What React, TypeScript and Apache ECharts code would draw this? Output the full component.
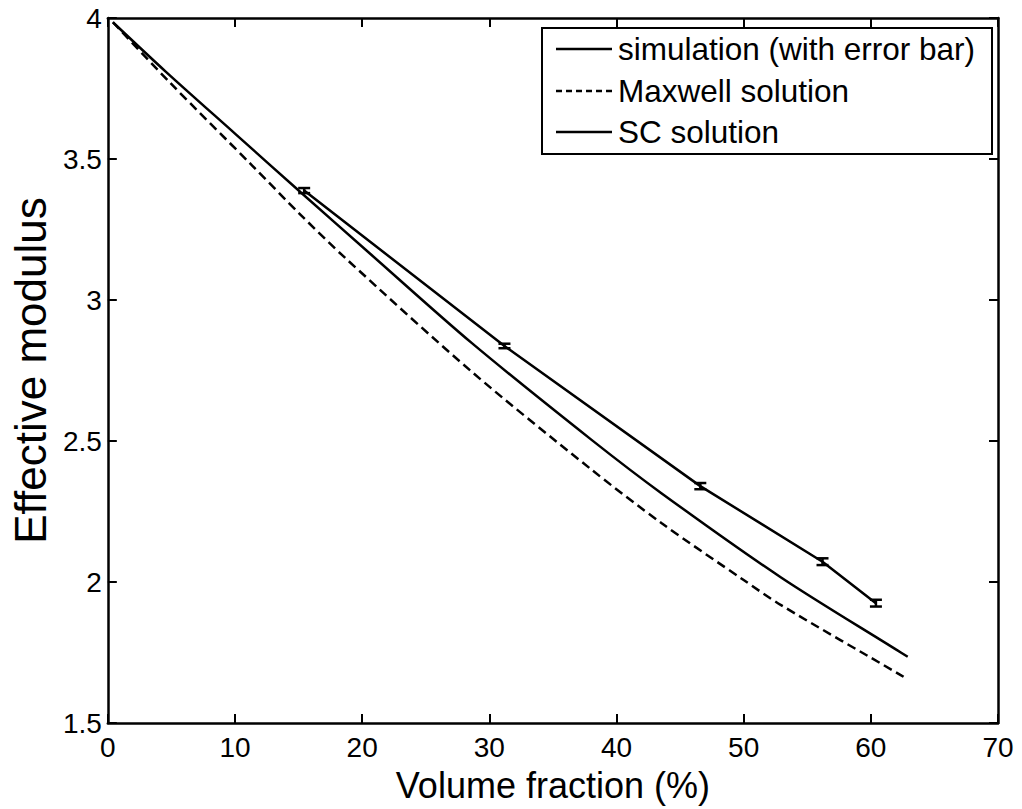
import React, { useEffect, useRef } from "react";
import * as echarts from "echarts";

// Simulation points (with error bars)
const simX = [15.44, 31.19, 46.59, 56.2, 60.4];
const simY = [3.388, 2.837, 2.34, 2.072, 1.925];
const simErr = [0.009, 0.008, 0.011, 0.012, 0.012];

// Maxwell solution (dashed)
const maxwellX = [0.4, 4.86, 11.37, 15.14, 18.67, 28.63, 37.88, 43.53, 50.0, 52.94, 62.35, 62.9];
const maxwellY = [3.985, 3.772, 3.476, 3.303, 3.149, 2.745, 2.404, 2.209, 2.007, 1.918, 1.67, 1.655];

// SC solution (solid)
const scX = [0.4, 4.55, 10.0, 15.14, 20.63, 28.63, 38.04, 43.53, 52.94, 62.0, 62.9];
const scY = [3.985, 3.81, 3.59, 3.383, 3.164, 2.847, 2.504, 2.315, 2.016, 1.76, 1.735];

const xMin = 0, xMax = 70, xStep = 10;
const yMin = 1.5, yMax = 4, yStep = 0.5;

const legendLabels = ["simulation (with error bar)", "Maxwell solution", "SC solution"];
const xName = "Volume fraction (%)";
const yName = "Effective modulus";

const FONT = "'Liberation Sans', Arial, Helvetica, sans-serif";

export default function App() {
  const ref = useRef<HTMLDivElement>(null);
  useEffect(() => {
    document.body.style.margin = "0";
    const chart = echarts.init(ref.current!, null, { renderer: "svg" });
    const pair = (xs: number[], ys: number[]) => xs.map((x, i) => [x, ys[i]]);
    const axisLine = { show: true, onZero: false, lineStyle: { color: "#000", width: 2.5 } };
    const axisTick = { show: true, inside: true, length: 9, lineStyle: { color: "#000", width: 2 } };
    const gridL = 105, gridT = 18, gridR = 24, gridB = 86;
    const legX = 542, legY = 28, legW = 450, legH = 126;
    const rowY = [legY + 21, legY + 63, legY + 104];
    const lineX1 = legX + 14, lineX2 = legX + 70, textX = legX + 76;
    const legendGraphics: any[] = [
      {
        type: "rect",
        shape: { x: legX, y: legY, width: legW, height: legH },
        style: { fill: "#fff", stroke: "#000", lineWidth: 2 },
        z: 100,
      },
    ];
    legendLabels.forEach((lab, i) => {
      legendGraphics.push({
        type: "line",
        shape: { x1: lineX1, y1: rowY[i], x2: lineX2, y2: rowY[i] },
        style: { stroke: "#000", lineWidth: 2.5, lineDash: i === 1 ? [6, 4] : null },
        z: 101,
      });
      legendGraphics.push({
        type: "text",
        x: textX,
        y: rowY[i],
        style: { text: lab, font: `31.5px ${FONT}`, fill: "#000", verticalAlign: "middle" },
        z: 101,
      });
    });

    chart.setOption({
      animation: false,
      backgroundColor: "#fff",
      grid: { left: gridL, top: gridT, right: gridR, bottom: gridB },
      xAxis: [
        {
          type: "value", min: xMin, max: xMax, interval: xStep, position: "bottom",
          axisLine, axisTick, splitLine: { show: false },
          axisLabel: { color: "#000", fontSize: 28, fontFamily: FONT, margin: 10 },
          name: xName, nameLocation: "middle", nameGap: 44,
          nameTextStyle: { color: "#000", fontSize: 36, fontFamily: FONT },
        },
        {
          type: "value", min: xMin, max: xMax, interval: xStep, position: "top",
          axisLine, axisTick, splitLine: { show: false }, axisLabel: { show: false },
        },
      ],
      yAxis: [
        {
          type: "value", min: yMin, max: yMax, interval: yStep, position: "left",
          axisLine, axisTick, splitLine: { show: false },
          axisLabel: { color: "#000", fontSize: 28, fontFamily: FONT, margin: 6 },
          name: yName, nameLocation: "middle", nameGap: 55,
          nameTextStyle: { color: "#000", fontSize: 44, fontFamily: FONT },
        },
        {
          type: "value", min: yMin, max: yMax, interval: yStep, position: "right",
          axisLine, axisTick, splitLine: { show: false }, axisLabel: { show: false },
        },
      ],
      series: [
        {
          name: legendLabels[0], type: "line", data: pair(simX, simY), showSymbol: false,
          symbol: "none", lineStyle: { color: "#000", width: 2.5 }, z: 5,
        },
        {
          name: "errorbars", type: "custom",
          data: simX.map((x, i) => [x, simY[i], simErr[i]]),
          renderItem: (params: any, api: any) => {
            const x = api.value(0), y = api.value(1), e = api.value(2);
            const top = api.coord([x, y + e]);
            const bot = api.coord([x, y - e]);
            const hw = 6;
            const st = { stroke: "#000", lineWidth: 2.5 };
            return {
              type: "group",
              children: [
                { type: "line", shape: { x1: top[0], y1: top[1], x2: bot[0], y2: bot[1] }, style: st },
                { type: "line", shape: { x1: top[0] - hw, y1: top[1], x2: top[0] + hw, y2: top[1] }, style: st },
                { type: "line", shape: { x1: bot[0] - hw, y1: bot[1], x2: bot[0] + hw, y2: bot[1] }, style: st },
              ],
            };
          },
          z: 6,
        },
        {
          name: legendLabels[1], type: "line", data: pair(maxwellX, maxwellY), showSymbol: false,
          symbol: "none", smooth: 0.3, lineStyle: { color: "#000", width: 2.5, type: [9, 5] }, z: 4,
        },
        {
          name: legendLabels[2], type: "line", data: pair(scX, scY), showSymbol: false,
          symbol: "none", smooth: 0.3, lineStyle: { color: "#000", width: 2.5 }, z: 4,
        },
      ],
      graphic: legendGraphics,
    });
    return () => chart.dispose();
  }, []);
  return <div ref={ref} style={{ width: 1022, height: 809 }} />;
}
